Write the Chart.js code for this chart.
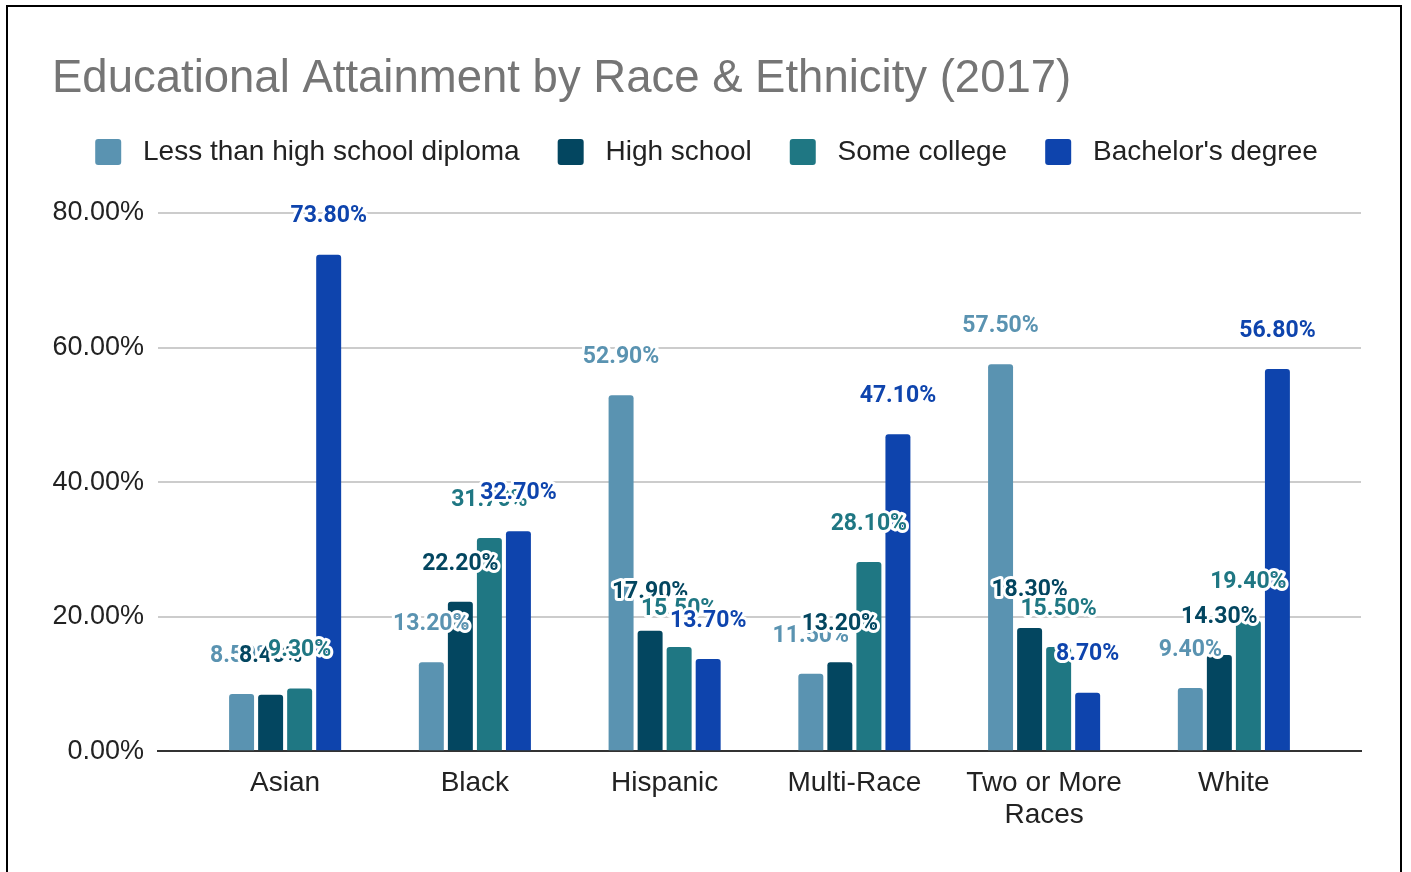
<!DOCTYPE html>
<html>
<head>
<meta charset="utf-8">
<script src="https://cdn.jsdelivr.net/npm/chart.js@4.4.1/dist/chart.umd.min.js"></script>
<style>
  html, body { margin: 0; padding: 0; background: #fff; }
  #wrap { position: relative; width: 1411px; height: 872px; overflow: hidden; }
  #frame {
    position: absolute; left: 6px; top: 5px; width: 1396px; height: 900px;
    border: 2px solid #000; box-sizing: border-box;
  }
  canvas { position: absolute; left: 0; top: 0; }
</style>
</head>
<body>
<div id="wrap">
  <div id="frame"></div>
  <canvas id="chart" width="1411" height="872"></canvas>
</div>
<script>
// Data
const categories = ['Asian', 'Black', 'Hispanic', 'Multi-Race', ['Two or More', 'Races'], 'White'];
const seriesNames = ['Less than high school diploma', 'High school', 'Some college', "Bachelor's degree"];
const lessThanHighSchool = [8.5, 13.2, 52.9, 11.5, 57.5, 9.4];
const highSchool = [8.4, 22.2, 17.9, 13.2, 18.3, 14.3];
const someCollege = [9.3, 31.7, 15.5, 28.1, 15.5, 19.4];
const bachelors = [73.8, 32.7, 13.7, 47.1, 8.7, 56.8];
const yTicks = [0, 20, 40, 60, 80];

const colors = ['#5a93b1', '#034660', '#1f7783', '#0e44ad'];
const seriesValues = [lessThanHighSchool, highSchool, someCollege, bachelors];

// value labels with a white halo, drawn after all bars
const valueLabels = {
    id: 'valueLabels',
    afterDatasetsDraw(chart) {
        const ctx = chart.ctx;
        ctx.save();
        ctx.font = 'bold 23px Roboto';
        ctx.textAlign = 'center';
        ctx.textBaseline = 'middle';
        ctx.lineJoin = 'round';
        chart.data.datasets.forEach((ds, i) => {
            const meta = chart.getDatasetMeta(i);
            meta.data.forEach((bar, j) => {
                const text = ds.data[j].y.toFixed(2) + '%';
                const y = bar.y - 38;
                ctx.lineWidth = 6;
                ctx.strokeStyle = '#fff';
                ctx.strokeText(text, bar.x, y);
                ctx.fillStyle = ds.backgroundColor;
                ctx.fillText(text, bar.x, y);
            });
        });
        ctx.restore();
    }
};

// extra room between legend and plot
const legendSpacer = {
    id: 'legendSpacer',
    beforeInit(chart) {
        const fit = chart.legend.fit;
        chart.legend.fit = function () {
            fit.bind(chart.legend)();
            this.height += 37;
        };
    }
};

new Chart(document.getElementById('chart'), {
    type: 'bar',
    data: {
        datasets: seriesValues.map((vals, i) => ({
            label: seriesNames[i],
            data: vals.map((v, k) => ({ x: k, y: v })),
            backgroundColor: colors[i],
            borderRadius: { topLeft: 3, topRight: 3 },
            borderSkipped: 'bottom',
            categoryPercentage: 0.612,
            barPercentage: 0.86
        }))
    },
    options: {
        responsive: false,
        animation: false,
        devicePixelRatio: 1,
        layout: { padding: { left: 52, right: 50, top: 59, bottom: 25 } },
        plugins: {
            title: {
                display: true,
                text: 'Educational Attainment by Race & Ethnicity (2017)',
                align: 'start',
                color: '#757575',
                font: { family: 'Liberation Sans', size: 45.5, weight: 'normal', lineHeight: 0.9 },
                padding: { top: 0, bottom: 0 }
            },
            legend: {
                display: true,
                labels: {
                    color: '#222',
                    font: { family: 'Liberation Sans', size: 28 },
                    boxWidth: 26,
                    boxHeight: 26,
                    useBorderRadius: true,
                    borderRadius: 3,
                    padding: 38,
                    generateLabels(chart) {
                        return Chart.defaults.plugins.legend.labels.generateLabels(chart)
                            .map(item => ({ ...item, text: ' ' + item.text }));
                    }
                }
            },
            tooltip: { enabled: false }
        },
        scales: {
            x: {
                type: 'linear',
                offset: false,
                min: -0.67,
                max: categories.length - 1 + 0.67,
                afterBuildTicks(scale) {
                    scale.ticks = categories.map((c, k) => ({ value: k }));
                },
                grid: { display: false, drawTicks: false },
                border: { display: true, color: '#333', width: 2 },
                ticks: {
                    color: '#222',
                    font: { family: 'Liberation Sans', size: 28, lineHeight: 1.14 },
                    padding: 16,
                    maxRotation: 0,
                    autoSkip: false,
                    callback: v => categories[v]
                }
            },
            y: {
                min: 0,
                max: 80,
                afterBuildTicks(scale) {
                    scale.ticks = yTicks.map(v => ({ value: v }));
                },
                afterFit(scale) {
                    scale.width = 106;
                },
                grid: { color: '#cccccc', lineWidth: 2, drawTicks: false },
                border: { display: false },
                ticks: {
                    color: '#222',
                    font: { family: 'Liberation Sans', size: 27 },
                    padding: 14,
                    callback: v => v.toFixed(2) + '%'
                }
            }
        }
    },
    plugins: [valueLabels, legendSpacer]
});
</script>
</body>
</html>
